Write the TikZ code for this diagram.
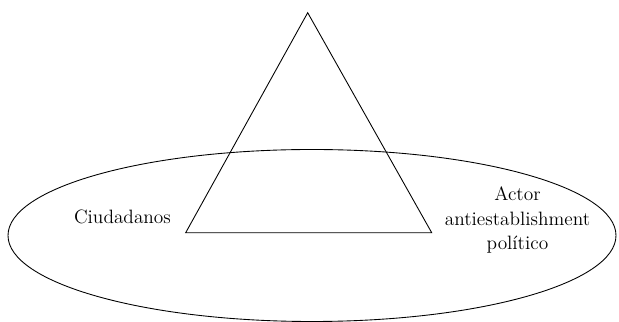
\documentclass[tikz,border=0pt]{standalone}
\usepackage{tikz}
\usetikzlibrary{positioning,calc}

\begin{document}
\begin{tikzpicture}[
    lbl/.style={align=center, font=\fontsize{11}{14}\selectfont, inner sep=0pt},
    edge/.style={draw, line width=0.5pt}
]
\useasboundingbox (0,0) rectangle (12.38,6.44);
\coordinate (top) at (6.154,6.186);
\coordinate (left) at (3.714,1.786);
\coordinate (right) at (8.634,1.786);
\draw[edge] (6.24,1.73) ellipse [x radius=6.08, y radius=1.72];
\draw[edge] (top) -- (left) -- (right) -- cycle;
\node[lbl] (ciud) at (2.45,2.11) {Ciudadanos};
\node[lbl] (actor) at (10.35,2.04) {Actor\\antiestablishment\\político};
\end{tikzpicture}
\end{document}
